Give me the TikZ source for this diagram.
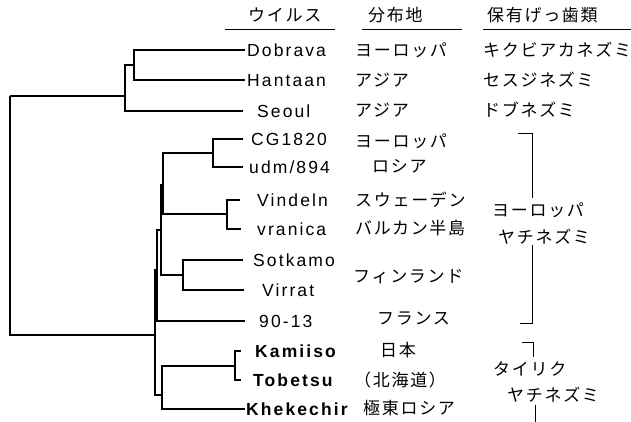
\documentclass[tikz,border=0pt]{standalone}
\usepackage{fontspec}
\setmainfont{Liberation Sans}
\newfontfamily\latfont[LetterSpace=12]{Liberation Sans}
\newfontfamily\jpfont[LetterSpace=10]{Noto Sans CJK JP}
\tikzset{
  virus/.style={anchor=west, inner sep=0pt, text height=12.5pt, text depth=0pt,
    font=\latfont\fontsize{17.5}{20}\selectfont},
  jp/.style={anchor=west, inner sep=0pt, text height=15pt, text depth=2pt,
    font=\jpfont\fontsize{17}{20}\selectfont},
  tree/.style={line width=1.8pt},
  bracket/.style={line width=0.8pt},
  rule/.style={line width=0.9pt}
}
\begin{document}
\begin{tikzpicture}[x=1pt, y=-1pt]
\useasboundingbox (0,0) rectangle (631,422);
% column headers
\node[jp] (hv) at (248,15) {ウイルス};
\node[jp] (hd) at (368,15) {分布地};
\node[jp] (hr) at (487,15) {保有げっ歯類};
\draw[rule] (225,29) -- (335,29);
\draw[rule] (362,29) -- (462,29);
\draw[rule] (483,29) -- (631,29);
% leaves: tip of branch and virus name
\foreach \n/\y/\t/\x/\w in {dob/50/245/247/{Dobrava}, han/80/245/247/{Hantaan},
    seo/111/243/257/{Seoul}, cg/139/243/251/{CG1820}, udm/167/243/249/{udm/894},
    vin/200/240/257/{Vindeln}, vra/229/241/257/{vranica}, sot/260/243/253/{Sotkamo},
    vir/290/244/262/{Virrat}, nin/321/245/259/{90-13}, kam/351/241/255/{\bfseries Kamiiso},
    tob/380/241/253/{\bfseries Tobetsu}, khe/409/245/246/{\bfseries Khekechir}} {
  \coordinate (\n) at (\t,\y);
  \node[virus] (l\n) at (\x,\y) {\w};
}
% inner nodes of the tree
\coordinate (a) at (134,65);
\coordinate (b) at (125,96);
\coordinate (c1) at (213,153);
\coordinate (c2) at (227,214);
\coordinate (c) at (163,185);
\coordinate (s) at (183,275);
\coordinate (f) at (161,230);
\coordinate (e) at (157,270);
\coordinate (k) at (235,366);
\coordinate (h) at (162,395);
\coordinate (v) at (155,335);
\coordinate (r) at (10,96);
\draw[tree] (a) |- (dob) (a) |- (han)
  (b) |- (a) (b) |- (seo)
  (c1) |- (cg) (c1) |- (udm)
  (c2) |- (vin) (c2) |- (vra)
  (c) |- (c1) (c) |- (c2)
  (s) |- (sot) (s) |- (vir)
  (f) |- (c) (f) |- (s)
  (e) |- (f) (e) |- (nin)
  (k) |- (kam) (k) |- (tob)
  (h) |- (k) (h) |- (khe)
  (v) |- (e) (v) |- (h)
  (r) |- (b) (r) |- (v);
% distribution
\node[jp] (d1) at (355,50) {ヨーロッパ};
\node[jp] (d2) at (355,80) {アジア};
\node[jp] (d3) at (355,110) {アジア};
\node[jp] (d4) at (355,141) {ヨーロッパ};
\node[jp] (d5) at (372,166) {ロシア};
\node[jp] (d6) at (355,200) {スウェーデン};
\node[jp] (d7) at (355,228) {バルカン半島};
\node[jp] (d8) at (353,276) {フィンランド};
\node[jp] (d9) at (377,318) {フランス};
\node[jp] (d10) at (380,350) {日本};
\node[jp] (d11) at (354,380) {（北海道）};
\node[jp] (d12) at (363,408) {極東ロシア};
% rodent hosts
\node[jp] (r1) at (483,50) {キクビアカネズミ};
\node[jp] (r2) at (483,80) {セスジネズミ};
\node[jp] (r3) at (483,110) {ドブネズミ};
\node[jp] (g1) at (492,210) {ヨーロッパ};
\node[jp] (g2) at (498,237) {ヤチネズミ};
\node[jp] (g3) at (493,369) {タイリク};
\node[jp] (g4) at (507,395) {ヤチネズミ};
% brackets of the vole groups
\coordinate (eua) at (518,133);
\coordinate (eub) at (532,198);
\coordinate (euc) at (532,245);
\coordinate (eud) at (520,323);
\coordinate (tya) at (522,342);
\coordinate (tyb) at (533,357);
\coordinate (tyc) at (535,405);
\coordinate (tyd) at (535,422);
\draw[bracket] (eua) -| (eub);
\draw[bracket] (euc) |- (eud);
\draw[bracket] (tya) -| (tyb);
\draw[bracket] (tyc) -- (tyd);
\end{tikzpicture}
\end{document}
